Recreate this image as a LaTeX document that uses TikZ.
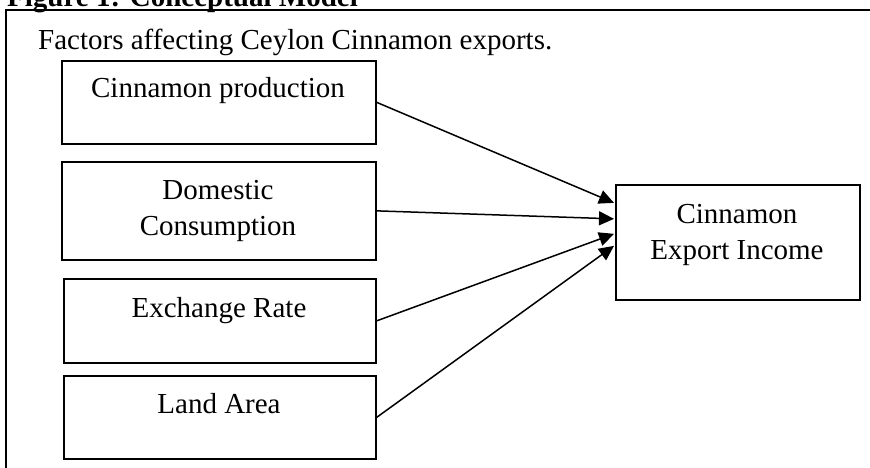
\documentclass[tikz,border=0pt]{standalone}
\usepackage{fontspec}
\setmainfont{Liberation Serif}
\usetikzlibrary{arrows.meta}
\begin{document}
\begin{tikzpicture}[x=1pt,y=-1pt,
  txt/.style={font=\fontsize{29}{36}\selectfont, inner sep=0pt, align=center},
  box/.style={draw, line width=1.7pt, inner sep=0pt, anchor=north west},
  arr/.style={line width=1.5pt, -{Triangle[length=15pt,width=14pt]}}]
\useasboundingbox (0,0) rectangle (870,467);
\clip (0,0) rectangle (870,467);
% outer frame
\draw[line width=1.7pt] (6,480) -- (6,10) -- (880,10);
\node[txt, font=\fontsize{29}{36}\selectfont\bfseries, anchor=base west] (hdr) at (7,6) {Figure 1: Conceptual Model};
\node[txt, anchor=base west] (ttl) at (38,49) {Factors affecting Ceylon Cinnamon exports.};
% boxes
\node[box, minimum width=314pt, minimum height=83pt] (b1) at (61,60) {};
\node[box, minimum width=314pt, minimum height=98pt] (b2) at (61,161) {};
\node[box, minimum width=312pt, minimum height=84pt] (b3) at (63,278) {};
\node[box, minimum width=312pt, minimum height=83pt] (b4) at (63,375) {};
\node[box, minimum width=244pt, minimum height=115pt] (tgt) at (615,184) {};
% labels
\node[txt, anchor=base] (t1) at (218,97) {Cinnamon production};
\node[txt, anchor=base] (t2a) at (218,199) {Domestic};
\node[txt, anchor=base] (t2b) at (218,235) {Consumption};
\node[txt, anchor=base] (t3) at (219,317) {Exchange Rate};
\node[txt, anchor=base] (t4) at (219,413) {Land Area};
\node[txt, anchor=base] (t5a) at (737,223) {Cinnamon};
\node[txt, anchor=base] (t5b) at (737,259) {Export Income};
% connectors
\draw[arr] (b1.east) -- ([yshift=39.5pt,xshift=-1pt]tgt.west);
\draw[arr] (b2.east) -- ([yshift=23.5pt,xshift=-1pt]tgt.west);
\draw[arr] (b3.east) -- ([yshift=8.5pt,xshift=-1pt]tgt.west);
\draw[arr] (b4.east) -- ([yshift=-3.5pt,xshift=-1pt]tgt.west);
\end{tikzpicture}
\end{document}
